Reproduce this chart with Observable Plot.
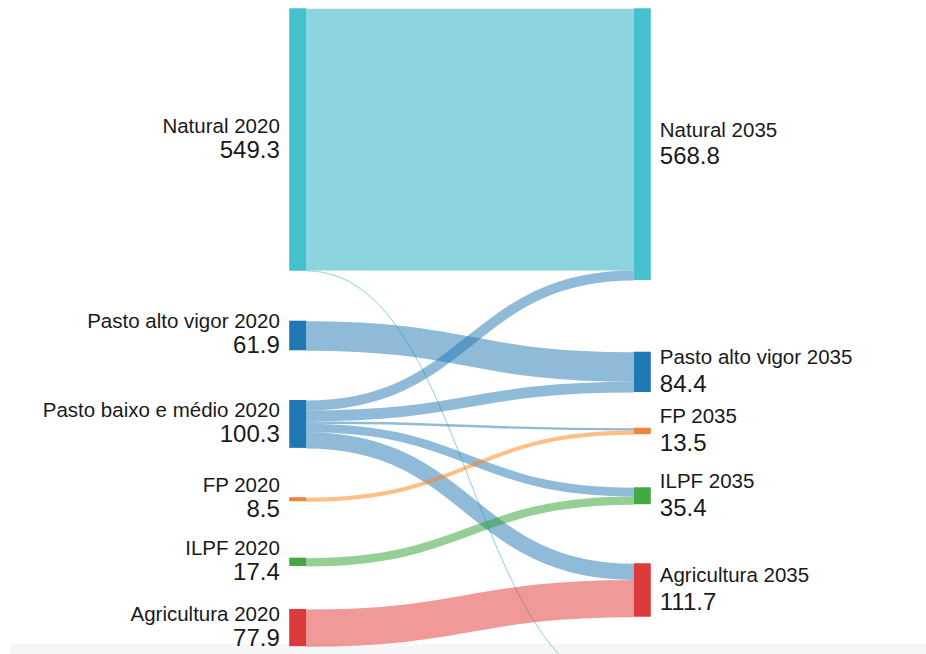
<!DOCTYPE html>
<html><head><meta charset="utf-8">
<script src="https://cdn.jsdelivr.net/npm/d3@7"></script>
<script src="https://cdn.jsdelivr.net/npm/@observablehq/plot@0.6"></script>
<style>
html,body{margin:0;padding:0;background:#fff;overflow:hidden;width:926px;height:654px}
#wrap{position:relative;width:926px;height:654px}
#band{position:absolute;left:10px;top:644px;width:916px;height:10px;background:#f6f6f6}
#chart{position:absolute;left:0;top:0}
</style></head><body>
<div id="wrap"><div id="band"></div><div id="chart"></div></div>
<script>
// ---------- DATA ----------
const nodes2020 = ["Natural 2020", "Pasto alto vigor 2020", "Pasto baixo e médio 2020", "FP 2020", "ILPF 2020", "Agricultura 2020"];
const nodes2035 = ["Natural 2035", "Pasto alto vigor 2035", "FP 2035", "ILPF 2035", "Agricultura 2035", ""]; // last node lies below the visible area
const category2020 = ["Natural", "Pasto", "Pasto", "FP", "ILPF", "Agricultura"];
const category2035 = ["Natural", "Pasto", "FP", "ILPF", "Agricultura", "Outro"];
const linkSource = [0, 0, 1, 2, 2, 2, 2, 2, 3, 4, 5];
const linkTarget = [0, 5, 1, 0, 1, 2, 3, 4, 2, 3, 4];
const linkValue  = [547.8, 1.5, 61.9, 21.0, 22.5, 5.0, 18.0, 33.8, 8.5, 17.4, 77.9];

// ---------- STYLE / LAYOUT ----------
const nodeColor = {Natural: "#45c1cd", Pasto: "#1f77b4", FP: "#f4823c", ILPF: "#44a844", Agricultura: "#db3c3b", Outro: "#888"};
const linkColor = {Natural: "#17a7bb", Pasto: "#1f77b4", FP: "#ff7f0e", ILPF: "#2ca02c", Agricultura: "#df3434"};
const pxPerUnit = 0.4777;
const topPx = 8.3;
const gapLeftPx = [0, 50.0, 49.7, 49.3, 56.4, 43.0];
const gapRightPx = [0, 71.7, 35.7, 53.1, 59.1, 73.3];
const nodeW = 17;

// ---------- LAYOUT COMPUTATION ----------
const links = linkValue.map((v, i) => ({s: linkSource[i], t: linkTarget[i], value: v}));
function buildColumn(names, cats, gaps, col, key) {
  let y = 0;
  return names.map((name, i) => {
    const value = d3.sum(links.filter(l => l[key] === i), l => l.value);
    y += gaps[i] / pxPerUnit;
    const n = {name, cat: cats[i], col, value, y0: y, y1: y + value};
    y += value;
    return n;
  });
}
const left = buildColumn(nodes2020, category2020, gapLeftPx, 0, "s");
const right = buildColumn(nodes2035, category2035, gapRightPx, 1, "t");
left.forEach((n, i) => {
  let y = n.y0;
  links.filter(l => l.s === i).sort((a, b) => right[a.t].y0 - right[b.t].y0)
    .forEach(l => { l.ys = y + l.value / 2; y += l.value; });
});
right.forEach((n, i) => {
  let y = n.y0;
  links.filter(l => l.t === i).sort((a, b) => left[a.s].y0 - left[b.s].y0)
    .forEach(l => { l.yt = y + l.value / 2; y += l.value; });
});
links.forEach(l => { l.color = linkColor[left[l.s].cat]; l.w = Math.max(1, l.value * pxPerUnit); });
const allNodes = left.concat(right).map(n => ({...n, yc: (n.y0 + n.y1) / 2, color: nodeColor[n.cat], label: d3.format(".1f")(n.value)}));
const leftLabels = allNodes.filter(n => n.col === 0 && n.name);
const rightLabels = allNodes.filter(n => n.col === 1 && n.name);
const U = 1500;

const chart = Plot.plot({
  width: 926, height: 654,
  margin: 0,
  style: {background: "transparent", fontFamily: "'Liberation Sans', Arial, sans-serif", overflow: "hidden"},
  x: {domain: [0, 1], range: [288.7 + nodeW, 633.3], axis: null},
  y: {domain: [0, U], range: [topPx, topPx + U * pxPerUnit], axis: null},
  marks: [
    Plot.link(links, {x1: () => 0, x2: () => 1, y1: "ys", y2: "yt", curve: "bump-x",
      stroke: "color", strokeWidth: "w", strokeOpacity: 0.5}),
    Plot.ruleX(allNodes.filter(n => n.col === 0), {x: "col", y1: "y0", y2: "y1", stroke: "color", strokeWidth: nodeW, dx: -nodeW / 2}),
    Plot.ruleX(allNodes.filter(n => n.col === 1), {x: "col", y1: "y0", y2: "y1", stroke: "color", strokeWidth: nodeW, dx: nodeW / 2}),
    Plot.text(leftLabels, {x: "col", y: "yc", text: "name", textAnchor: "end", lineAnchor: "bottom", dx: -26.4, dy: -7.5, fontSize: 20.5, fill: "#1a1a1a"}),
    Plot.text(leftLabels, {x: "col", y: "yc", text: "label", textAnchor: "end", lineAnchor: "bottom", dx: -26.4, dy: 17.5, fontSize: 24, fill: "#1a1a1a"}),
    Plot.text(rightLabels, {x: "col", y: "yc", text: "name", textAnchor: "start", lineAnchor: "bottom", dx: 26, dy: -8, fontSize: 20.5, fill: "#1a1a1a"}),
    Plot.text(rightLabels, {x: "col", y: "yc", text: "label", textAnchor: "start", lineAnchor: "bottom", dx: 26, dy: 19.5, fontSize: 24, fill: "#1a1a1a"})
  ]
});
document.getElementById("chart").appendChild(chart);
</script>
</body></html>
